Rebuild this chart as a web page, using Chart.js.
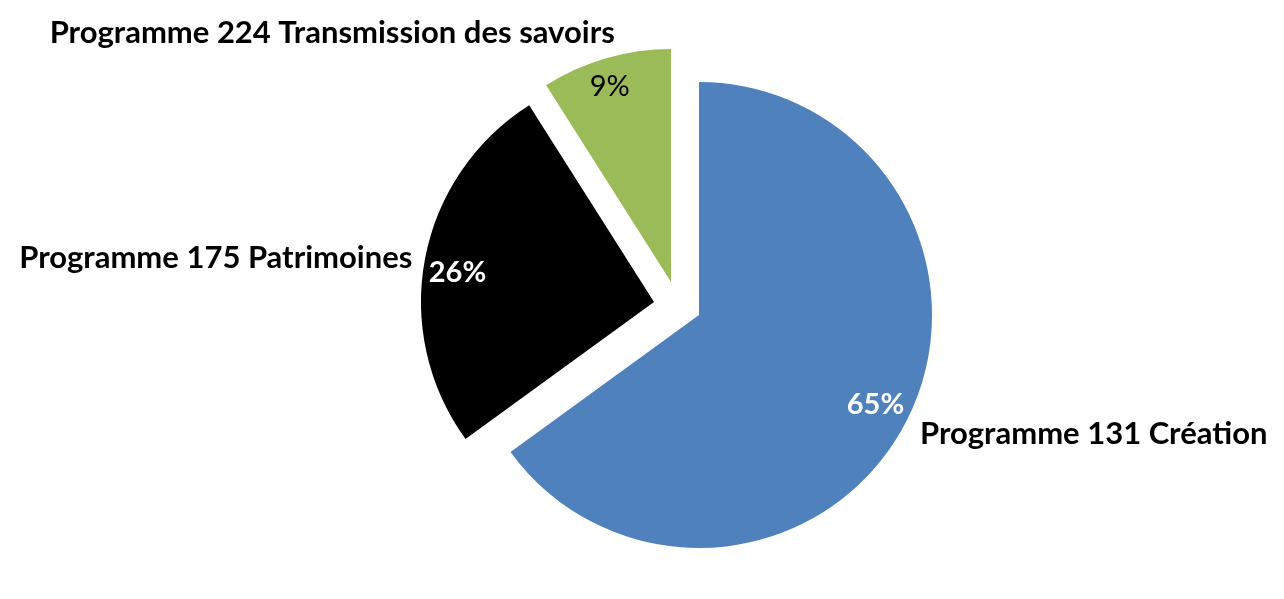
<!DOCTYPE html>
<html lang="fr">
<head>
<meta charset="utf-8">
<title>Répartition par programme</title>
<script src="https://cdn.jsdelivr.net/npm/chart.js@4.4.1/dist/chart.umd.min.js"></script>
<style>
	html, body { margin: 0; padding: 0; background: #fff; }
	#wrap { width: 1284px; height: 599px; position: relative; }
</style>
</head>
<body>
<div id="wrap"><canvas id="chart"></canvas></div>
<script>
const programmes = [
	'Programme 131 Création',
	'Programme 175 Patrimoines',
	'Programme 224 Transmission des savoirs',
];
const shares = [65, 26, 9];

const sliceColors = ['#4F81BD', '#000000', '#9BBB59'];
const pctColors = ['#ffffff', '#ffffff', '#000000'];
const pctWeights = ['bold', 'bold', 'normal'];
// slices pulled out of the pie (Excel-style explosion), in px
const explode = [[0, 0], [-45, -13], [-28, -33]];
// small hand tweaks so the labels sit where Excel put them
const pctNudge = [[0, 0], [-2, 8], [-6, -5]];
const nameNudge = [[0, 1], [2, 5], [13, 1]];

const FONT = 'Lato, "Open Sans", sans-serif';

function midDir(arc) {
	const a = (arc.startAngle + arc.endAngle) / 2;
	return { x: Math.cos(a), y: Math.sin(a) };
}

const explodePlugin = {
	id: 'explode',
	beforeDatasetDraw(chart, args) {
		const ctx = chart.ctx;
		args.meta.data.forEach((arc, i) => {
			ctx.save();
			ctx.translate(explode[i][0], explode[i][1]);
			arc.draw(ctx, chart.chartArea);
			ctx.restore();
		});
		return false;
	},
};

const labelPlugin = {
	id: 'sliceLabels',
	afterDatasetsDraw(chart) {
		const ctx = chart.ctx;
		const meta = chart.getDatasetMeta(0);
		const data = chart.data.datasets[0].data;
		const total = data.reduce((s, v) => s + v, 0);

		meta.data.forEach((arc, i) => {
			const d = midDir(arc);
			const cx = arc.x + explode[i][0];
			const cy = arc.y + explode[i][1];
			const r = arc.outerRadius;

			// percentage inside the slice
			ctx.save();
			ctx.font = `${pctWeights[i]} 29px ${FONT}`;
			ctx.fillStyle = pctColors[i];
			ctx.textAlign = 'center';
			ctx.textBaseline = 'middle';
			const pct = Math.round((data[i] / total) * 100) + '%';
			ctx.fillText(
				pct,
				cx + d.x * r * 0.85 + pctNudge[i][0],
				cy + d.y * r * 0.85 + pctNudge[i][1]
			);

			// category name outside
			ctx.font = `bold 31px ${FONT}`;
			ctx.fillStyle = '#000';
			ctx.textAlign = d.x >= 0 ? 'left' : 'right';
			const lx = cx + d.x * (r + 15) + nameNudge[i][0];
			const ly = cy + d.y * (r + 15) + d.y * 12 + nameNudge[i][1];
			ctx.fillText(chart.data.labels[i], lx, ly);
			ctx.restore();
		});
	},
};

const config = {
	type: 'pie',
	data: {
		labels: programmes,
		datasets: [
			{
				data: shares,
				backgroundColor: sliceColors,
				borderWidth: 0,
				radius: 233,
			},
		],
	},
	options: {
		responsive: true,
		maintainAspectRatio: false,
		animation: false,
		layout: {
			padding: { left: 114, right: 0, top: 31, bottom: 0 },
		},
		plugins: {
			legend: { display: false },
			tooltip: { enabled: false },
		},
	},
	plugins: [explodePlugin, labelPlugin],
};

new Chart(document.getElementById('chart'), config);
</script>
</body>
</html>
